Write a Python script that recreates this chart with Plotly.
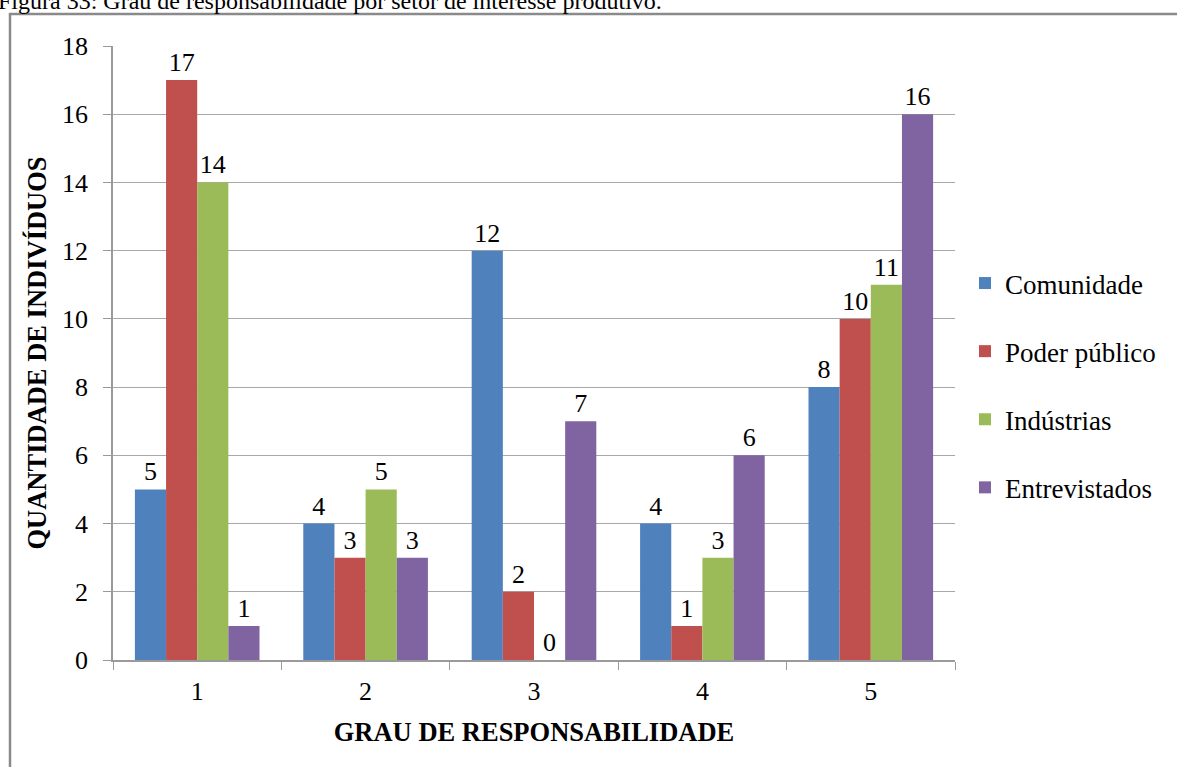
import plotly.graph_objects as go

categories = ["1", "2", "3", "4", "5"]
series_names = ["Comunidade", "Poder público", "Indústrias", "Entrevistados"]
comunidade = [5, 4, 12, 4, 8]
poder_publico = [17, 3, 2, 1, 10]
industrias = [14, 5, 0, 3, 11]
entrevistados = [1, 3, 7, 6, 16]
colors = ["#4F81BD", "#C0504D", "#9BBB59", "#8064A2"]
y_ticks = [0, 2, 4, 6, 8, 10, 12, 14, 16, 18]

W, H = 1177, 767
L, R, T, B = 113, 222, 46, 107
pw, ph = W - L - R, H - T - B

def px_x(p):
    return (p - L) / pw

def px_y(p):
    return (H - B - p) / ph

FONT = "Liberation Serif"

fig = go.Figure()
for i, (name, vals) in enumerate(zip(series_names, [comunidade, poder_publico, industrias, entrevistados])):
    fig.add_trace(go.Bar(
        x=categories, y=vals, name=name,
        marker=dict(color=colors[i], line=dict(width=0)),
        text=[str(v) for v in vals], textposition="outside",
        textfont=dict(family=FONT, size=26, color="black"),
        cliponaxis=False, legendgroup=name,
    ))

fig.update_layout(
    width=W, height=H,
    margin=dict(l=L, r=R, t=T, b=B),
    paper_bgcolor="white", plot_bgcolor="white",
    barmode="group", bargap=0.26, bargroupgap=0,
    font=dict(family=FONT, color="black"),
    legend=dict(
        x=px_x(965), y=px_y(259), xanchor="left", yanchor="top",
        font=dict(family=FONT, size=27, color="black"),
        tracegroupgap=30, itemsizing="constant",
        bgcolor="rgba(0,0,0,0)",
    ),
    xaxis=dict(
        type="category", showgrid=False, showline=True, linecolor="#9a9a9a", linewidth=1.5,
        ticks="outside", tickson="boundaries", ticklen=8, tickcolor="#9a9a9a",
        ticklabelstandoff=7,
        tickfont=dict(family=FONT, size=26, color="black"),
        title=dict(text="<b>GRAU DE RESPONSABILIDADE</b>", font=dict(family=FONT, size=26.5, color="black"), standoff=17),
    ),
    yaxis=dict(
        range=[0, 18], tickvals=y_ticks, showgrid=True, gridcolor="#a8a8a8", gridwidth=1.2,
        showline=True, linecolor="#9a9a9a", linewidth=1.5, zeroline=False,
        ticks="outside", ticklen=8, tickcolor="#9a9a9a", ticklabelstandoff=10,
        tickfont=dict(family=FONT, size=26, color="black"),
        title=dict(text="<b>QUANTIDADE DE INDIVÍDUOS</b>", font=dict(family=FONT, size=26.5, color="black"), standoff=8),
    ),
    shapes=[
        dict(type="line", xref="paper", yref="paper",
             x0=px_x(10), x1=px_x(10), y0=px_y(H + 20), y1=px_y(13),
             line=dict(color="#8a8a8a", width=2.5), layer="below"),
        dict(type="line", xref="paper", yref="paper",
             x0=px_x(9), x1=px_x(W + 20), y0=px_y(14), y1=px_y(14),
             line=dict(color="#8a8a8a", width=2.5), layer="below"),
    ],
    annotations=[dict(
        text="Figura 33: Grau de responsabilidade por setor de interesse produtivo.",
        xref="paper", yref="paper", x=px_x(-4), y=px_y(16), xanchor="left", yanchor="bottom",
        showarrow=False, font=dict(family=FONT, size=24, color="black"),
    )],
)

fig.write_html("out.html", config={"displayModeBar": False},
               post_script="document.body.style.margin='0';document.body.style.overflow='hidden';")
